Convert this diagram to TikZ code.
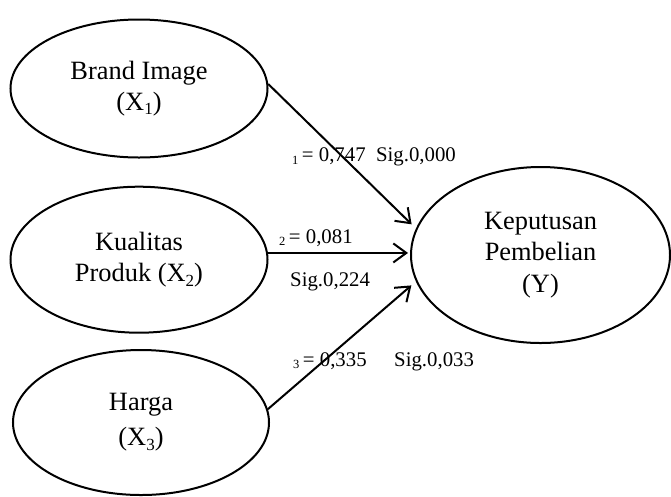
\documentclass[tikz,border=0pt]{standalone}
\usepackage{fontspec}
\setmainfont{Liberation Serif}
\usetikzlibrary{shapes.geometric,arrows.meta,calc}
\newcommand\esub[1]{\raisebox{-0.35ex}{\fontsize{17}{17}\selectfont #1}}
\newcommand\lsub[1]{\raisebox{-0.3ex}{\fontsize{12.5}{12.5}\selectfont #1}\,}
\tikzset{
  var/.style={draw, line width=2pt, ellipse, inner sep=0pt, align=center,
    font=\fontsize{26.4}{31.5}\selectfont},
  arr/.style={line width=2pt, -{Straight Barb[length=13pt,width=19pt]}},
  lbl/.style={anchor=base west, inner sep=0pt, font=\fontsize{20.8}{24}\selectfont}
}
\begin{document}
\begin{tikzpicture}[x=1pt,y=-1pt]
\useasboundingbox (0,0) rectangle (671,496);
\node[var, minimum width=257pt, minimum height=138pt] (x1) at (139,88.5) {Brand Image\\(X\esub{1})};
\node[var, minimum width=257pt, minimum height=146pt] (x2) at (139,259.7) {Kualitas\\Produk (X\esub{2})};
\node[var, minimum width=256pt, minimum height=145pt, font=\fontsize{26.4}{35}\selectfont] (x3) at (141,422.5) {Harga\\(X\esub{3})};
\node[var, minimum width=259pt, minimum height=176pt] (y) at (540.5,255) {Keputusan\\Pembelian\\(Y)};
\draw[arr, shorten >=6pt] (x1.2) -- (y.168.4);
\draw[arr, shorten >=2pt] (x2.3) -- (x2.3 -| y.west);
\draw[arr, shorten >=6pt] (x3.6.5) -- (y.192.9);
\node[lbl] (l1) at (292,161.5) {\lsub{1}= 0,747\ \ Sig.0,000};
\node[lbl] (l2) at (279,243) {\lsub{2}= 0,081};
\node[lbl] (s2) at (290,286.5) {Sig.0,224};
\node[lbl] (l3) at (293,366) {\lsub{3}= 0,335};
\node[lbl] (s3) at (394,366) {Sig.0,033};
\end{tikzpicture}
\end{document}
